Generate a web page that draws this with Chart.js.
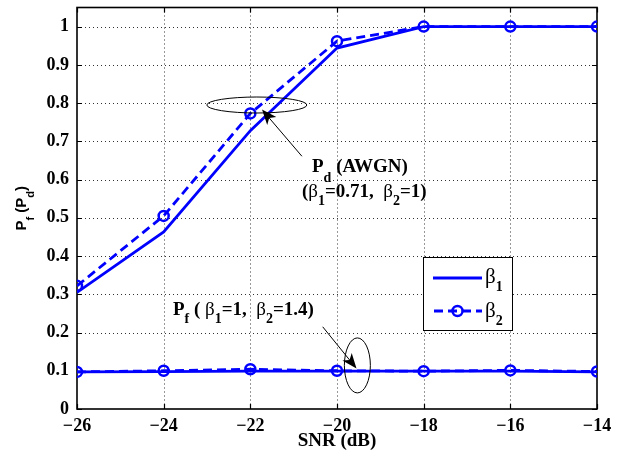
<!DOCTYPE html>
<html>
<head>
<meta charset="utf-8">
<script src="https://cdn.jsdelivr.net/npm/chart.js@4.4.0/dist/chart.umd.min.js"></script>
<style>
  html, body { margin: 0; padding: 0; background: #fff; }
  canvas { display: block; }
</style>
</head>
<body>
<canvas id="chart" width="618" height="462"></canvas>
<script>
// values
const snr = [-26, -24, -22, -20, -18, -16, -14];
const pdBeta1 = [0.305, 0.463, 0.728, 0.944, 1.0, 1.0, 1.0];
const pdBeta2 = [0.322, 0.505, 0.773, 0.962, 1.0, 1.0, 1.0];
const pfBeta1 = [0.097, 0.098, 0.099, 0.099, 0.099, 0.099, 0.097];
const pfBeta2 = [0.097, 0.100, 0.104, 0.100, 0.099, 0.101, 0.098];

const xTicks = [-26, -24, -22, -20, -18, -16, -14];
const xTickLabels = ['\u221226', '\u221224', '\u221222', '\u221220', '\u221218', '\u221216', '\u221214'];
const yTicks = [0, 0.1, 0.2, 0.3, 0.4, 0.5, 0.6, 0.7, 0.8, 0.9, 1];
const yTickLabels = ['0', '0.1', '0.2', '0.3', '0.4', '0.5', '0.6', '0.7', '0.8', '0.9', '1'];
const legendSubs = ['1', '2'];

const SERIF = "'Liberation Serif', 'Times New Roman', serif";
const SANS = "'Liberation Sans', Arial, sans-serif";
const BLUE = '#0000ff';

const pts = ys => snr.map((s, i) => ({ x: s, y: ys[i] }));

function solidSet(ys) {
  return {
    data: pts(ys), borderColor: BLUE, borderWidth: 2.8, pointRadius: 0,
    fill: false, tension: 0, order: 1
  };
}
function dashedSet(ys) {
  return {
    data: pts(ys), borderColor: BLUE, borderWidth: 2.8, borderDash: [9, 5],
    pointRadius: 5, pointBorderWidth: 2.5, pointBorderColor: BLUE,
    pointBackgroundColor: 'rgba(0,0,0,0)', fill: false, tension: 0, order: 0
  };
}

// draw a run of text pieces, some as subscripts
function drawRuns(ctx, x, y, runs, size, subSize, subDy, family, measureOnly) {
  let cx = x;
  runs.forEach(r => {
    const sz = r.sub ? subSize : size;
    const weight = r.normal ? 'normal' : 'bold';
    ctx.font = `${weight} ${sz}px ${family}`;
    if (!measureOnly) ctx.fillText(r.t, cx, y + (r.sub ? subDy : 0));
    cx += ctx.measureText(r.t).width;
  });
  return cx - x;
}

function ellipse(ctx, cx, cy, rx, ry) {
  ctx.beginPath();
  ctx.ellipse(cx, cy, rx, ry, 0, 0, Math.PI * 2);
  ctx.stroke();
}

function arrow(ctx, x1, y1, x2, y2) {
  const ang = Math.atan2(y2 - y1, x2 - x1);
  const len = 15, half = 6, notch = 4;
  ctx.beginPath();
  ctx.moveTo(x1, y1);
  ctx.lineTo(x2 - Math.cos(ang) * notch, y2 - Math.sin(ang) * notch);
  ctx.stroke();
  const bx = x2 - Math.cos(ang) * len, by = y2 - Math.sin(ang) * len;
  const nx = -Math.sin(ang) * half, ny = Math.cos(ang) * half;
  ctx.beginPath();
  ctx.moveTo(x2, y2);
  ctx.lineTo(bx + nx, by + ny);
  ctx.lineTo(x2 - Math.cos(ang) * (len - notch), y2 - Math.sin(ang) * (len - notch));
  ctx.lineTo(bx - nx, by - ny);
  ctx.closePath();
  ctx.fill();
}

const matlabFrame = {
  id: 'matlabFrame',
  beforeDatasetsDraw(chart) {
    const { ctx, chartArea: a, scales: { x, y } } = chart;
    ctx.save();
    ctx.strokeStyle = '#333';
    ctx.lineWidth = 1;
    ctx.setLineDash([1, 3]);
    xTicks.forEach(v => {
      if (v <= x.min || v >= x.max) return;
      const px = Math.round(x.getPixelForValue(v)) + 0.5;
      ctx.beginPath(); ctx.moveTo(px, a.top); ctx.lineTo(px, a.bottom); ctx.stroke();
    });
    yTicks.forEach(v => {
      if (v <= y.min || v >= y.max) return;
      const py = Math.round(y.getPixelForValue(v)) + 0.5;
      ctx.beginPath(); ctx.moveTo(a.left, py); ctx.lineTo(a.right, py); ctx.stroke();
    });
    ctx.setLineDash([]);
    ctx.strokeStyle = '#000';
    ctx.lineWidth = 1.2;
    xTicks.forEach(v => {
      const px = Math.round(x.getPixelForValue(v)) + 0.5;
      ctx.beginPath();
      ctx.moveTo(px, a.bottom); ctx.lineTo(px, a.bottom - 5);
      ctx.moveTo(px, a.top); ctx.lineTo(px, a.top + 5);
      ctx.stroke();
    });
    yTicks.forEach(v => {
      const py = Math.round(y.getPixelForValue(v)) + 0.5;
      ctx.beginPath();
      ctx.moveTo(a.left, py); ctx.lineTo(a.left + 5, py);
      ctx.moveTo(a.right, py); ctx.lineTo(a.right - 5, py);
      ctx.stroke();
    });
    ctx.lineWidth = 1.6;
    ctx.strokeRect(a.left, a.top, a.right - a.left, a.bottom - a.top);
    ctx.restore();
  },
  afterDatasetsDraw(chart) {
    const { ctx, scales: { x, y } } = chart;
    const ex = v => x.getPixelForValue(v), ey = v => y.getPixelForValue(v);
    ctx.save();
    ctx.fillStyle = '#000';
    ctx.strokeStyle = '#000';
    ctx.lineWidth = 1;

    // callouts
    ellipse(ctx, ex(-21.85), ey(0.795), 50, 8);
    arrow(ctx, ex(-20.81), ey(0.661), ex(-21.73), ey(0.783));
    ellipse(ctx, ex(-19.53), ey(0.114), 13, 27.5);
    arrow(ctx, ex(-20.33), ey(0.215), ex(-19.55), ey(0.106));

    ctx.textAlign = 'left';
    ctx.textBaseline = 'alphabetic';
    drawRuns(ctx, 312, 172, [
      { t: 'P' }, { t: 'd', sub: true }, { t: ' (AWGN)' }
    ], 19, 14, 10, SERIF);
    drawRuns(ctx, 302, 197, [
      { t: '(' }, { t: '\u03b2', normal: true }, { t: '1', sub: true }, { t: '=0.71,  ' },
      { t: '\u03b2', normal: true }, { t: '2', sub: true }, { t: '=1)' }
    ], 19, 14, 8, SERIF);
    drawRuns(ctx, 173, 315, [
      { t: 'P' }, { t: 'f', sub: true }, { t: ' ( ' }, { t: '\u03b2', normal: true },
      { t: '1', sub: true }, { t: '=1,  ' }, { t: '\u03b2', normal: true },
      { t: '2', sub: true }, { t: '=1.4)' }
    ], 19, 14, 8, SERIF);

    // legend
    const lx = 423.5, ly = 257.5, lw = 89, lh = 73;
    ctx.fillStyle = '#fff';
    ctx.fillRect(lx, ly, lw, lh);
    ctx.strokeStyle = '#000';
    ctx.lineWidth = 1;
    ctx.strokeRect(lx, ly, lw, lh);
    ctx.strokeStyle = BLUE;
    ctx.lineWidth = 2.8;
    ctx.beginPath(); ctx.moveTo(433, 278); ctx.lineTo(482, 278); ctx.stroke();
    ctx.setLineDash([9, 5]);
    ctx.lineDashOffset = -1;
    ctx.beginPath(); ctx.moveTo(433, 311); ctx.lineTo(482, 311); ctx.stroke();
    ctx.setLineDash([]);
    ctx.lineWidth = 2.5;
    ctx.beginPath(); ctx.arc(457.5, 311, 5, 0, Math.PI * 2); ctx.stroke();
    ctx.fillStyle = '#000';
    legendSubs.forEach((s, i) => {
      drawRuns(ctx, 485, 283 + i * 34, [
        { t: '\u03b2', normal: true }, { t: s, sub: true }
      ], 21, 14, 8, SERIF);
    });

    ctx.restore();
  },
  afterDraw(chart) {
    const { ctx, chartArea: a } = chart;
    ctx.save();
    ctx.fillStyle = '#000';
    ctx.textBaseline = 'alphabetic';
    // x axis title
    ctx.font = `bold 19px ${SERIF}`;
    ctx.textAlign = 'center';
    ctx.fillText('SNR (dB)', (a.left + a.right) / 2, 446);
    // y axis title
    ctx.textAlign = 'left';
    const yRuns = [{ t: 'P' }, { t: 'f', sub: true }, { t: ' (P' }, { t: 'd', sub: true }, { t: ')' }];
    const w = drawRuns(ctx, 0, 0, yRuns, 15, 11, 8, SANS, true);
    ctx.translate(26, (a.top + a.bottom) / 2);
    ctx.rotate(-Math.PI / 2);
    drawRuns(ctx, -w / 2, 0, yRuns, 15, 11, 8, SANS);
    ctx.restore();
  }
};

new Chart(document.getElementById('chart'), {
  type: 'line',
  data: {
    datasets: [
      solidSet(pdBeta1), dashedSet(pdBeta2),
      solidSet(pfBeta1), dashedSet(pfBeta2)
    ]
  },
  options: {
    responsive: false,
    animation: false,
    devicePixelRatio: 1,
    layout: { padding: { left: 0, right: 21, top: 4, bottom: 0 } },
    plugins: { legend: { display: false }, tooltip: { enabled: false } },
    scales: {
      x: {
        type: 'linear', min: -26, max: -14,
        afterBuildTicks: s => { s.ticks = xTicks.map(v => ({ value: v })); },
        afterFit: s => { s.height = 53; s.paddingLeft = 0; s.paddingRight = 0; },
        grid: { display: false, drawTicks: false },
        border: { display: false },
        ticks: {
          color: '#000', padding: 7, maxRotation: 0, autoSkip: false,
          font: { family: SERIF, size: 18, weight: 'bold' },
          callback: (v, i) => xTickLabels[i]
        }
      },
      y: {
        type: 'linear', min: 0, max: 1.05,
        afterBuildTicks: s => { s.ticks = yTicks.map(v => ({ value: v })); },
        afterFit: s => { s.width = 77; s.paddingTop = 0; s.paddingBottom = 0; },
        grid: { display: false, drawTicks: false },
        border: { display: false },
        ticks: {
          color: '#000', padding: 8, autoSkip: false,
          font: { family: SERIF, size: 18, weight: 'bold' },
          callback: (v, i) => yTickLabels[i]
        }
      }
    }
  },
  plugins: [matlabFrame]
});
</script>
</body>
</html>
